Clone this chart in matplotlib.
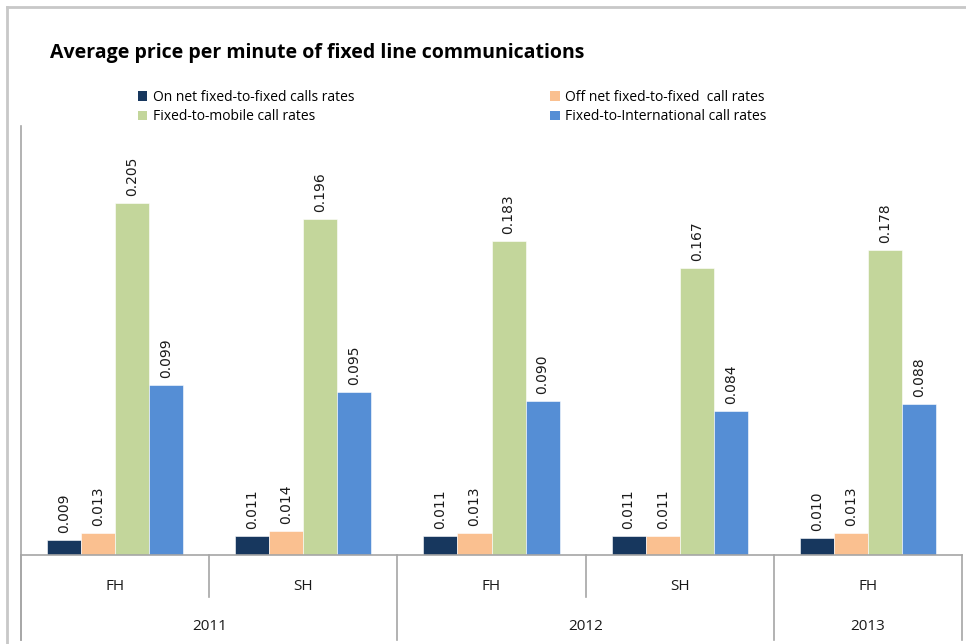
import numpy as np
import matplotlib.pyplot as plt
from matplotlib.lines import Line2D
from matplotlib.patches import Patch
import matplotlib.transforms as mtransforms

periods = ["FH", "SH", "FH", "SH", "FH"]
years = ["2011", "2012", "2013"]
year_spans = [(0, 1), (2, 3), (4, 4)]

series_names = [
    "On net fixed-to-fixed calls rates",
    "Off net fixed-to-fixed  call rates",
    "Fixed-to-mobile call rates",
    "Fixed-to-International call rates",
]
on_net = [0.009, 0.011, 0.011, 0.011, 0.010]
off_net = [0.013, 0.014, 0.013, 0.011, 0.013]
to_mobile = [0.205, 0.196, 0.183, 0.167, 0.178]
to_international = [0.099, 0.095, 0.090, 0.084, 0.088]

colors = ["#17375E", "#FAC090", "#C3D69B", "#558ED5"]
grey = "#A6A6A6"

fig = plt.figure(figsize=(9.66, 6.44), dpi=100)
ax = fig.add_axes([21 / 966, 1 - 555 / 644, 941 / 966, 429 / 644])

x = np.arange(len(periods))
width = 0.181
all_series = [on_net, off_net, to_mobile, to_international]
for i, (vals, col) in enumerate(zip(all_series, colors)):
    pos = x + (i - 1.5) * width
    bars = ax.bar(pos, vals, width=width, color=col, edgecolor="white", linewidth=0.4)
    for b, v in zip(bars, vals):
        ax.annotate(f"{v:.3f}", (b.get_x() + b.get_width() / 2, v),
                    xytext=(0, 5), textcoords="offset points",
                    rotation=90, ha="center", va="bottom",
                    fontsize=10, color="#1a1a1a", family="DejaVu Sans")

ax.set_xlim(-0.5, len(periods) - 0.5)
ax.set_ylim(0, 0.25)
ax.set_xticks([])
ax.set_yticks([])
for s in ["top", "right"]:
    ax.spines[s].set_visible(False)
ax.spines["left"].set_visible(False)
ax.spines["bottom"].set_color(grey)
ax.spines["bottom"].set_linewidth(1.2)

# two-level category axis below the bars
trans = mtransforms.blended_transform_factory(ax.transData, ax.transAxes)
short_y = -42 / 429
long_y = -85 / 429
for b in np.arange(-0.5, len(periods), 1.0):
    is_year_edge = b in (-0.5, 1.5, 3.5, 4.5)
    ax.add_line(Line2D([b, b], [0, long_y if is_year_edge else short_y],
                       transform=trans, color=grey, lw=1.2, clip_on=False))
# left axis line runs from the top of the plot down past the year row
ax.add_line(Line2D([-0.5, -0.5], [1, long_y], transform=trans,
                   color=grey, lw=1.2, clip_on=False))

for xi, p in zip(x, periods):
    ax.text(xi, -31 / 429, p, transform=trans, ha="center", va="center",
            fontsize=11, family="Open Sans", color="#1a1a1a")
for yr, (a, b) in zip(years, year_spans):
    ax.text((a + b) / 2, -72 / 429, yr, transform=trans, ha="center", va="center",
            fontsize=11, family="Open Sans", color="#1a1a1a")

# chart frame
fig.add_artist(Line2D([7 / 966, 7 / 966], [0, 1 - 7 / 644], transform=fig.transFigure,
                      color="#C8C8C8", lw=2))
fig.add_artist(Line2D([7 / 966, 1], [1 - 7 / 644, 1 - 7 / 644], transform=fig.transFigure,
                      color="#C8C8C8", lw=2))

fig.text(50 / 966, 1 - 53 / 644, "Average price per minute of fixed line communications",
         fontsize=14, fontweight="bold", family="Open Sans", va="center", ha="left")

# legend reads across rows, so feed it column by column
handles = [Patch(facecolor=c, edgecolor="none") for c in colors]
order = [0, 2, 1, 3]
fig.legend([handles[i] for i in order], [series_names[i] for i in order],
           loc="center left", ncol=2,
           bbox_to_anchor=(125 / 966, 1 - 107 / 644), frameon=False,
           prop={"family": "Open Sans", "size": 10},
           handlelength=0.7, handleheight=0.7, handletextpad=0.4,
           columnspacing=14.1, labelspacing=0.35)

fig.savefig("out.png", dpi=100)
